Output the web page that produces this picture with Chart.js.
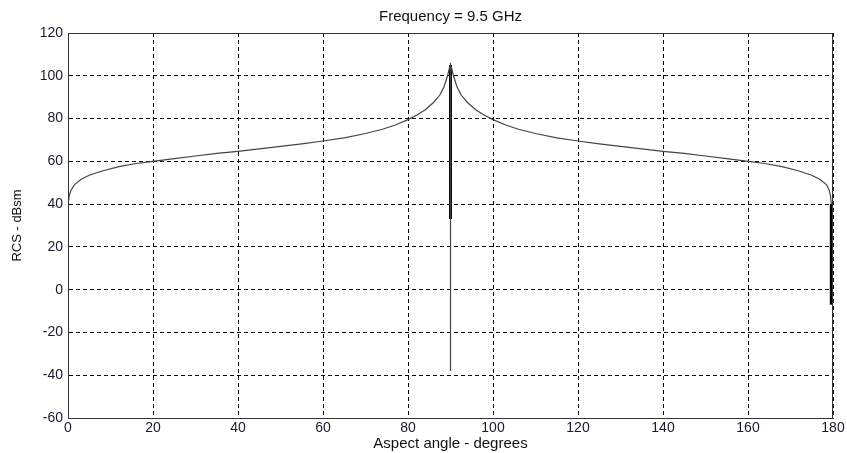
<!DOCTYPE html>
<html>
<head>
<meta charset="utf-8">
<script src="https://cdn.jsdelivr.net/npm/chart.js@4/dist/chart.umd.min.js"></script>
<style>
  html, body { margin:0; padding:0; background:#fff; }
  #wrap { width:847px; height:453px; }
</style>
</head>
<body>
<div id="wrap"><canvas id="rcs"></canvas></div>
<script>
/* ── DATA ─────────────────────────────────────────────────── */
const angles = [0, 0.3, 0.7, 1.5, 3, 5, 8, 12, 16, 20, 25, 30, 35, 40, 45, 50, 55, 60, 65, 70, 74, 77, 80, 82, 84, 86, 87.5, 88.5, 89.3, 89.8, 90,
                90, 90,
                90.2, 90.7, 91.5, 92.5, 94, 96, 98, 100, 103, 106, 110, 115, 120, 125, 130, 135, 140, 145, 150, 155, 160, 164, 168, 172, 175, 177, 178.5, 179.1, 179.4, 179.6];
const rcs    = [40, 44, 46.5, 49, 51.5, 53.5, 55.5, 57.5, 59, 60, 61.3, 62.5, 63.7, 64.7, 65.8, 67, 68.2, 69.5, 71, 73, 75, 77, 79.5, 81.5, 84, 87.5, 91, 95, 100, 104, 105,
                -38, 105,
                104, 100, 95, 91, 87.5, 84, 81.5, 79.5, 77, 75, 73, 71, 69.5, 68.2, 67, 65.8, 64.7, 63.7, 62.5, 61.3, 60, 59, 57.5, 55.5, 53.5, 51.5, 49, 46.5, 44, 40];

// thick vertical bands (dense nulls) at broadside and near 180 deg
const bandAngles = [90, 90, null, 179.6, 179.6];
const bandRcs    = [105, 33, null, 40, -7];

const xTicks = [0, 20, 40, 60, 80, 100, 120, 140, 160, 180];
const yTicks = [-60, -40, -20, 0, 20, 40, 60, 80, 100, 120];

const FONT = 'Liberation Sans, Arial, sans-serif';

/* ── BOX + TITLE ──────────────────────────────────────────── */
const frame = {
  id: 'frame',
  afterDraw(chart) {
    const { ctx, chartArea: a } = chart;
    ctx.save();
    ctx.strokeStyle = '#333';
    ctx.lineWidth = 1;
    ctx.strokeRect(a.left + 0.5, a.top + 0.5, a.right - a.left - 1, a.bottom - a.top);
    ctx.fillStyle = '#111';
    ctx.font = '15px ' + FONT;
    ctx.textAlign = 'center';
    ctx.textBaseline = 'middle';
    ctx.fillText('Frequency = 9.5 GHz', (a.left + a.right) / 2, 17);
    ctx.restore();
  }
};

const pts  = angles.map((a, i) => ({ x: a, y: rcs[i] }));
const band = bandAngles.map((a, i) => a === null ? { x: null, y: null } : ({ x: a, y: bandRcs[i] }));

new Chart(document.getElementById('rcs'), {
  type: 'scatter',
  data: {
    datasets: [
      { data: pts,  showLine: true, borderColor: '#444', borderWidth: 1.2, pointRadius: 0, tension: 0 },
      { data: band, showLine: true, borderColor: '#000', borderWidth: 3, pointRadius: 0, spanGaps: false },
    ],
  },
  options: {
    responsive: true,
    maintainAspectRatio: false,
    animation: false,
    layout: { padding: { top: 33, right: 14, left: 0, bottom: 0 } },
    plugins: { legend: { display: false }, tooltip: { enabled: false } },
    scales: {
      x: {
        type: 'linear', min: 0, max: 180,
        afterBuildTicks: s => { s.ticks = xTicks.map(v => ({ value: v })); },
        afterFit: s => { s.height = 35; },
        ticks: { color: '#1a1a2e', font: { family: FONT, size: 14 }, padding: 2, maxRotation: 0 },
        grid: { color: '#000', lineWidth: 1, drawTicks: false },
        border: { color: '#333', dash: [4, 3] },
        title: { display: true, text: 'Aspect angle - degrees', color: '#111', font: { family: FONT, size: 15 }, padding: { top: 0, bottom: 0 } },
      },
      y: {
        type: 'linear', min: -60, max: 120,
        afterBuildTicks: s => { s.ticks = yTicks.map(v => ({ value: v })); },
        afterFit: s => { s.width = 68; },
        ticks: { color: '#1a1a2e', font: { family: FONT, size: 14 }, padding: 5 },
        grid: { color: '#000', lineWidth: 1, drawTicks: false },
        border: { color: '#333', dash: [4, 3] },
        title: { display: true, text: 'RCS - dBsm', color: '#111', font: { family: FONT, size: 13 }, padding: { top: 10, bottom: 0 } },
      },
    },
  },
  plugins: [frame],
});
</script>
</body>
</html>
